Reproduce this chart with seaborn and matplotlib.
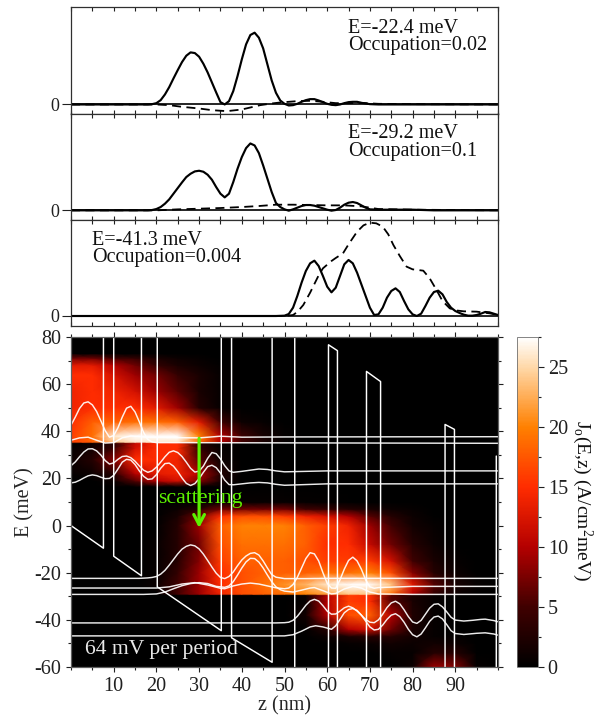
import numpy as np
import pandas as pd
import matplotlib
matplotlib.use("Agg")
import matplotlib.pyplot as plt
from matplotlib.colors import LinearSegmentedColormap
from matplotlib.ticker import MultipleLocator, FixedLocator, NullFormatter
import seaborn as sns

# ---------- data: upper panels ----------
p1_solid_z = [0,18,19,20,21,22,23,24,25,26,27,28,29,30,31,32,33,34,35,36,37,38,39,40,41,42,43,44,45,46,47,48,49,50,51,52,53,54,55,56,57,58,59,60,61,62,63,64,65,66,67,68,69,70,72,100]
p1_solid_v = [0,0,.01,.04,.13,.3,.52,.78,1.03,1.27,1.46,1.56,1.54,1.43,1.22,.96,.66,.36,.07,0,.1,.4,.85,1.35,1.8,2.08,2.15,2.0,1.68,1.2,.72,.35,.12,.02,-.03,-.02,.02,.08,.13,.16,.16,.12,.07,.02,-.01,-.02,0,.04,.07,.08,.08,.05,.03,.01,0,0]
p1_dash_z = [0,20,23,26,30,33,36.5,40,42,44.3,47,49,53,56,59,62,65,67.7,72,80,100]
p1_dash_v = [0,0,-.02,-.07,-.12,-.17,-.2,-.15,-.09,-.02,.03,.06,.1,.11,.08,.04,.04,.05,.02,.01,0]
p2_solid_z = [0,18,19,20,21,22,23,24,25,26,27,28,29,30,31,32,33,34,35,36,37,38,39,40,41,42,43,44,45,46,47,48,49,50,51,52,53,54,55,56,57,58,59,60,61,62,63,64,65,66,67,68,69,70,72,80,85,100]
p2_solid_v = [0,0,.01,.04,.1,.2,.33,.5,.67,.84,1.0,1.1,1.17,1.19,1.16,1.07,.92,.7,.5,.39,.5,.85,1.25,1.6,1.87,2.01,1.95,1.72,1.35,.95,.55,.22,.1,.03,-.01,.03,.08,.13,.16,.16,.14,.1,.06,.02,-.01,.01,.08,.17,.23,.25,.22,.15,.08,.03,.02,.02,0,0]
p2_dash_z = [0,20,25,30,35,40,44,48,52,56,60,64,68,72,80,100]
p2_dash_v = [0,0,.03,.05,.07,.10,.13,.17,.17,.16,.15,.15,.12,.04,.02,0]
p3_solid_z = [0,48,50,51,52,53,54,55,56,57,58,59,60,61,62,63,64,65,66,67,68,69,70,71,72,73,74,75,76,77,78,79,80,81,82,83,84,85,86,87,88,89,90,91,92,93,94,95,96,97,98,99,100]
p3_solid_v = [0,0,.01,.06,.25,.6,1.0,1.35,1.58,1.66,1.5,1.2,.88,.71,.85,1.2,1.55,1.68,1.58,1.3,.95,.6,.25,.03,.05,.25,.55,.75,.83,.72,.45,.2,.05,0,.07,.3,.55,.72,.76,.65,.42,.25,.15,.09,.04,.01,.01,.03,.07,.12,.11,.07,.03]
p3_dash_z = [0,50,52,53,54.4,56,58,59,61,62,63.7,65,67,68.5,70,71.5,73,74.3,75.5,77,78.6,80,82.5,84,85.6,87,88.7,90,92,95,98,100]
p3_dash_v = [0,0,.03,.12,.33,.7,1.22,1.43,1.65,1.74,1.88,2.15,2.53,2.72,2.8,2.78,2.68,2.45,2.13,1.8,1.48,1.4,1.36,1.13,.78,.45,.23,.17,.14,.13,.08,.03]

# ---------- data: current density map ----------
map_z = [0,5,10,15,20,25,30,35,40,45,50,55,60,65,70,75,80,85,90,95,100]
map_E = [-60,-54,-50,-47,-44,-38,-32,-29.5,-29,-25,-20,-15,-8,0,4,7,10,16.5,19,22,28,33,35,35.5,38,44,50,57,64,68,71,73,80]
map_J = [
 [0,0,0,0,0,0,0,0,0,0,0,0,0,0,0,0,1,9,8,.5,0],
 [0,0,0,0,0,0,0,0,0,0,0,0,0,0,0,.5,.5,3,3,.2,0],
 [0,0,0,0,0,0,0,0,0,0,0,0,.2,.5,.8,1.5,1,1.5,1,0,0],
 [0,0,0,0,0,0,0,0,0,0,0,0,1,2,3,3,1.5,.5,.3,0,0],
 [0,0,0,0,0,0,0,0,0,0,0,.3,3,10,12,7,2,.5,0,0,0],
 [0,0,0,0,0,0,0,0,0,0,0,1.5,10,17,18,10,2.5,.5,0,0,0],
 [0,0,0,0,0,0,0,0,0,0,0,.5,10,16,15,6,2,.5,0,0,0],
 [0,0,0,0,0,0,0,0,0,0,0,.5,10,16,15,6,2,.5,0,0,0],
 [0,0,0,0,0,5,9,14,17,18,19,20,22,24,24,19,10,4,1,.2,0],
 [0,0,0,0,1,5,9,15,17,19,21,23,26,27.5,27.5,24,13,6,2,.5,0],
 [0,0,0,0,.5,4,9,15,17,18,18,18,19,19,20,17,8,3,1,0,0],
 [0,0,0,0,.5,3,8,16,18,18,18,17,16,16,16,12,5,2,.5,0,0],
 [0,0,0,0,.5,3,7,17,19,19,19,18,15,15,11,7,3,1,0,0,0],
 [0,0,0,0,0,3,9,18,20,20,20,18,16,14,9,5,1.5,.5,0,0,0],
 [0,0,0,0,0,2,7,15,17,17,16,14,12,10,6,3,1,.2,0,0,0],
 [0,0,0,0,0,1,3,7,7,7,7,5,4,3,2,1,.5,0,0,0,0],
 [0,0,0,0,0,0,0,.4,.5,.5,.5,.4,.3,.2,0,0,0,0,0,0,0],
 [0,0,0,0,0,0,0,0,0,0,0,0,0,0,0,0,0,0,0,0,0],
 [0,0,1,6,10,12,8,2,0,0,0,0,0,0,0,0,0,0,0,0,0],
 [.5,1,3,10,13,14,10,3,0,0,0,0,0,0,0,0,0,0,0,0,0],
 [1,3,8,15,15,14,6,1,0,0,0,0,0,0,0,0,0,0,0,0,0],
 [.5,1.5,4,12,15,15,4,.5,0,0,0,0,0,0,0,0,0,0,0,0,0],
 [0,1,3,11,15,15,3,.5,0,0,0,0,0,0,0,0,0,0,0,0,0],
 [16,18,24,26,26,26,19,10,5,2,.5,0,0,0,0,0,0,0,0,0,0],
 [16,19,26,27.5,27.5,27.5,20,10,5,2,.5,0,0,0,0,0,0,0,0,0,0],
 [15,18,18,19,19,18,13,5,1,.5,0,0,0,0,0,0,0,0,0,0,0],
 [14,15,15,15,13,9,3,.5,0,0,0,0,0,0,0,0,0,0,0,0,0],
 [14,15,14,12,9,6,2,.5,0,0,0,0,0,0,0,0,0,0,0,0,0],
 [15,15,12,9,7,4,2,.5,0,0,0,0,0,0,0,0,0,0,0,0,0],
 [13,13,10,7,4,2,1,.3,0,0,0,0,0,0,0,0,0,0,0,0,0],
 [7,7,5,4,2,1,.5,0,0,0,0,0,0,0,0,0,0,0,0,0,0],
 [0]*21,
 [0]*21,
]

# ---------- data: band profile and levels ----------
band_z = [0,7.6,7.6,10,10,16.5,16.5,20.2,20.2,35.2,35.2,37.6,37.6,47.1,47.1,52.4,52.4,60.3,60.3,62.4,62.4,69.2,69.2,72.5,72.5,87.6,87.6,89.8,89.8,99.6,99.6]
band_E = [0,-9.6,120,116,-13,-21.3,110,105,-26,-44.6,100,97,-47.6,-58,93,86,-66,-77,76.7,74.2,-80,-90,65.4,61.1,-95,-115,42.9,40.8,-118,-130,29.5]
a_z = list(range(0,21))+[100]
a_E = [42.6,46,49.7,52,52.5,51.2,48.4,44.4,40.3,37.5,38.2,41.5,46,49.8,50.6,48.2,44,39.5,36.5,35.5,35.2,34.9]
b_z = [0,2,4,6,8,10,12,14,16,18,20,30,35,40,50,100]
b_E = [36.2,37.2,37.5,36.2,35,35.2,37.2,38,37.8,37.4,37.4,37.2,37.9,37.5,37.6,37.7]
c_z = list(range(0,39))+[40,42,44,46,48,50,60,100]
c_E = [25.4,27,29.2,31.2,32.5,32.6,31.7,29.9,27.6,26.1,26.6,28.1,29.3,29.5,28.8,27.3,25.3,23.5,22.6,23.2,24.8,26.9,29.2,31.1,31.7,31,29.3,26.9,24.3,22.7,23.1,25.2,28.5,31,30.5,28.3,25.4,23.2,22.6,23,23.5,24,23.8,23.2,22.8,23.2,23.2]
d_z = list(range(0,39))+[40,42,44,46,48,50,60,100]
d_E = [18.1,18.4,19.2,20.2,21.1,21.5,21.2,20.5,19.9,20,21.3,24,26.9,28.1,27.8,25.9,23.2,20.9,19.6,19.8,21.6,24.3,26.3,26.5,25.2,22.9,20.2,17.9,17,17.8,19.9,22.6,25,25.6,24.6,22.3,19.3,17.4,17.3,17.7,18.1,18.3,18.1,17.5,17.1,17.7,17.7]
s1_z = [0,16,18]+list(range(19,49))+[50,55,60,100]
s1_E = [-22.4,-22.4,-22.2,-22,-21.6,-20.6,-19,-16.8,-14.4,-12,-10,-8.8,-8.2,-8.6,-9.9,-12.1,-14.8,-17.6,-20.2,-22,-22.5,-21.6,-19.7,-17,-14.6,-12.9,-11.8,-11.5,-12.5,-15,-18,-20.8,-21.9,-22.5,-22.5,-22.4,-22.4]
s2_z = [0,20,23,26,29,32,35,36,38,40,42,44,46,48,50]+list(range(51,73))+[80,100]
s2_E = [-26.5,-26.5,-26,-24.8,-24.2,-25.2,-26.6,-26.8,-25.6,-24.8,-24.4,-24.8,-25.6,-26.4,-26.8,-26.5,-25,-22,-18,-14,-11.5,-12,-15,-20,-24.5,-26.5,-26.6,-23,-18.5,-14.8,-13.4,-15,-18.5,-23,-26,-26.6,-26.3,-25.8,-25.8]
s3_z = [0,17,20,22,24,26,28,30,32,34,36]+list(range(37,51))+[52,54,56,57,59,61,62,64,66,68,70,72,80,100]
s3_E = [-29.2,-29.2,-29,-28.2,-26.8,-25.5,-24.6,-24.2,-24.6,-25.8,-26.2,-25.6,-23.8,-21,-18,-15.4,-13.9,-14,-15.5,-18,-21,-23.8,-26,-27.2,-27.8,-28.2,-27.4,-26.5,-26.3,-27.6,-29,-28.8,-26.9,-25.8,-26.5,-28.2,-29,-29.2,-29.2]
g_z = [0,48,50]+list(range(51,91))+[92,94,96,97,99,100]
g_E = [-41.3,-41.3,-41.2,-41,-40.2,-38.5,-36.2,-33.8,-32,-31.3,-32,-34,-36.3,-37.6,-37.5,-36.3,-34.9,-34.2,-34.9,-36.3,-38,-39.8,-41,-41.2,-40,-37.6,-34.8,-32.8,-32.1,-33.2,-35.7,-38.6,-40.9,-41.5,-40.2,-37.6,-35,-33.4,-33.2,-34.5,-36.6,-38.9,-40.1,-40.5,-40.2,-39.8,-39.7,-40.3,-40.8]
h_z = [0,50,52,54,56,57.3,59,61]+list(range(62,91))+[92,95,97,99,100]
h_E = [-46.8,-46.8,-46.3,-44.8,-43,-42.5,-43,-44,-42.5,-39.8,-37,-35.6,-35.2,-36,-38,-40.5,-43,-44.3,-44,-42.2,-39.8,-38,-37.4,-38.6,-41,-44,-46.3,-47.2,-46,-43.4,-40.6,-38.8,-38.4,-39.6,-42,-44.6,-45.8,-46.2,-45.7,-45.5,-46,-46.5]

panel_labels = [["E=-22.4 meV","Occupation=0.02"],["E=-29.2 meV","Occupation=0.1"],["E=-41.3 meV","Occupation=0.004"]]
cbar_colors = ["#000000","#400000","#b40000","#ff2c00","#ff8000","#ffd8a8","#ffffff"]
cbar_stops = [0,5,10,15,20,25,27.5]

# ---------- style ----------
sns.set_theme(style="ticks")
plt.rcParams.update({
    "font.family": ["Liberation Serif","DejaVu Serif"],
    "mathtext.fontset": "custom",
    "mathtext.rm": "Liberation Serif",
    "mathtext.it": "Liberation Serif",
    "axes.unicode_minus": False,
    "axes.linewidth": 0.9,
    "axes.edgecolor": "#303030",
    "xtick.color": "#202020",
    "ytick.color": "#202020",
})
W, H = 595, 715
fig = plt.figure(figsize=(W/100, H/100), dpi=100, facecolor="white")

def add_axes(x0, y0, x1, y1):
    return fig.add_axes([x0/W, 1-y1/H, (x1-x0)/W, (y1-y0)/H])

def curve(ax, x, y, **kw):
    df = pd.DataFrame({"z": x, "v": y})
    sns.lineplot(data=df, x="z", y="v", sort=False, estimator=None, errorbar=None,
                 legend=False, ax=ax, **kw)

# ---------- upper panels ----------
panels = [
    (7.3, 113.5, -0.27, 2.91, p1_solid_z, p1_solid_v, p1_dash_z, p1_dash_v),
    (113.5, 220, -0.29, 2.91, p2_solid_z, p2_solid_v, p2_dash_z, p2_dash_v),
    (220, 326, -0.30, 2.88, p3_solid_z, p3_solid_v, p3_dash_z, p3_dash_v),
]
label_pos = [(348, 33, 50), (348, 138, 156), (92, 245, 262)]
for (y0, y1, lo, hi, sz, sv, dz, dv), lab, pos in zip(panels, panel_labels, label_pos):
    ax = add_axes(71, y0, 498, y1)
    ax.axhline(0, color="black", lw=1.2, zorder=1)
    curve(ax, sz, sv, color="black", lw=1.55)
    curve(ax, dz, dv, color="black", lw=1.3, linestyle=(0, (5, 3)))
    ax.set_xlim(0, 100)
    ax.set_ylim(lo, hi)
    ax.set_xlabel("")
    ax.set_ylabel("")
    ax.xaxis.set_major_locator(MultipleLocator(5))
    ax.xaxis.set_major_formatter(NullFormatter())
    ax.tick_params(axis="x", which="major", direction="in", top=True, bottom=True, length=3.2, width=0.8)
    ax.yaxis.set_major_locator(FixedLocator([0]))
    ax.tick_params(axis="y", direction="out", length=6.5, width=0.8, labelsize=13, pad=2)
    fig.text(pos[0]/W, 1-pos[1]/H, lab[0], fontsize=14.5, color="#111111", va="baseline")
    fig.text(pos[0]/W, 1-pos[2]/H, lab[1], fontsize=14.5, color="#111111", va="baseline")

# ---------- current density map ----------
cmap = LinearSegmentedColormap.from_list("jmap", [(s/27.5, c) for s, c in zip(cbar_stops, cbar_colors)])
ax = add_axes(71, 337, 498, 667)
ax.set_facecolor("black")
mesh = ax.pcolormesh(map_z, map_E, np.array(map_J, dtype=float), cmap=cmap, vmin=0, vmax=27.5,
                     shading="gouraud", rasterized=True)

white_lw = 1.05
curve(ax, band_z, band_E, color="white", lw=white_lw)
for zz, ee in [(a_z, a_E), (b_z, b_E), (c_z, c_E), (d_z, d_E), (s1_z, s1_E), (s2_z, s2_E), (s3_z, s3_E), (g_z, g_E), (h_z, h_E)]:
    curve(ax, zz, ee, color="white", lw=white_lw, alpha=0.92)

ax.annotate("", xy=(30, -1), xytext=(30, 37),
            arrowprops=dict(arrowstyle="->,head_length=0.6,head_width=0.32", color="#5cf000", lw=2.3,
                            shrinkA=0, shrinkB=0))
ax.text(30.4, 11.5, "scattering", color="#5cf000", fontsize=15.7, ha="center", va="center")
ax.text(3.3, -52.5, "64 mV per period", color="#e8e8e8", fontsize=15.6, ha="left", va="center")

ax.set_xlim(0, 100)
ax.set_ylim(-60, 80)
ax.xaxis.set_major_locator(FixedLocator(list(range(10, 100, 10))))
ax.xaxis.set_minor_locator(MultipleLocator(5))
ax.yaxis.set_major_locator(MultipleLocator(20))
ax.yaxis.set_minor_locator(MultipleLocator(10))
ax.tick_params(which="major", direction="out", top=True, right=True, length=3.6, width=0.8, labelsize=14.5, pad=3.5)
ax.tick_params(which="minor", direction="out", top=True, right=True, length=2.5, width=0.8)
ax.set_xlabel("z (nm)", fontsize=14.5, labelpad=0)
ax.set_ylabel("E (meV)", fontsize=14.5, labelpad=0)
for s in ax.spines.values():
    s.set_color("#606060")

# ---------- colour bar ----------
cax = add_axes(517, 337, 538, 667)
cb = fig.colorbar(mesh, cax=cax)
cb.set_ticks([0, 5, 10, 15, 20, 25])
cb.ax.yaxis.set_minor_locator(MultipleLocator(2.5))
cb.ax.tick_params(which="major", direction="out", length=4, width=0.8, labelsize=14.5, pad=3)
cb.ax.tick_params(which="minor", direction="out", length=2.5, width=0.8)
cb.outline.set_edgecolor("#707070")
cb.outline.set_linewidth(0.6)
fig.text(582/W, 1-501/H, r"J$_{\mathrm{o}}$(E,z) (A/cm$^{2}$meV)", rotation=270, fontsize=14,
         ha="center", va="center", color="#111111")

fig.savefig("out.png", dpi=100, facecolor="white")
